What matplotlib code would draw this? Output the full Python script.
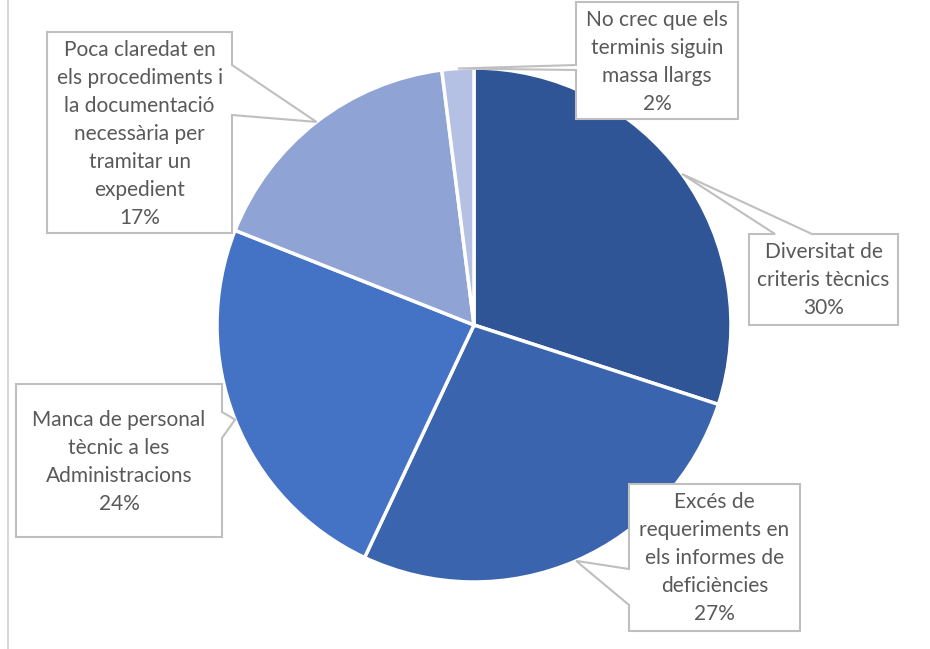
import numpy as np
import matplotlib
matplotlib.use('agg')
import matplotlib.pyplot as plt
from matplotlib.patches import Polygon

# dades del gràfic
etiquetes = ["Diversitat de\ncriteris tècnics",
             "Excés de\nrequeriments en\nels informes de\ndeficiències",
             "Manca de personal\ntècnic a les\nAdministracions",
             "Poca claredat en\nels procediments i\nla documentació\nnecessària per\ntramitar un\nexpedient",
             "No crec que els\nterminis siguin\nmassa llargs"]
valors = [30, 27, 24, 17, 2]
colors = ["#2F5597", "#3A64AD", "#4472C4", "#8FA3D4", "#B4C1E4"]

# caixes de les etiquetes (x0, y0, x1, y1 en píxels) i on surt la punta
caixes = [(749, 234, 898, 325), (629, 484, 800, 631), (16, 384, 222, 537),
          (47, 32, 232, 233), (576, 2, 738, 119)]
puntes = [("top", 775, 812), ("left", 569, 605), ("right", 412, 438),
          ("right", 65, 115), ("left", 65, 70)]

fig = plt.figure(figsize=(9.3, 6.49), dpi=100)
ax = fig.add_axes([0, 0, 1, 1])

centre = (474, 325)
radi = 257
wedges, _ = ax.pie(valors, colors=colors, startangle=-90, counterclock=True,
                   center=centre, radius=radi, frame=True,
                   wedgeprops=dict(edgecolor="white", linewidth=2.5))
ax.set_xlim(0, 930)
ax.set_ylim(649, 0)
ax.set_aspect('equal')
ax.axis('off')

# línia de la vora esquerra
ax.plot([8, 8], [0, 648], color="#D9D9D9", lw=1.5)

for w, lab, v, caixa, (costat, a, b) in zip(wedges, etiquetes, valors, caixes, puntes):
    mig = np.deg2rad((w.theta1 + w.theta2) / 2)
    tip = (centre[0] + radi * np.cos(mig), centre[1] + radi * np.sin(mig))
    x0, y0, x1, y1 = caixa
    if costat == "top":
        pts = [(x0, y0), (a, y0), tip, (b, y0), (x1, y0), (x1, y1), (x0, y1)]
    elif costat == "right":
        pts = [(x0, y0), (x1, y0), (x1, a), tip, (x1, b), (x1, y1), (x0, y1)]
    else:
        pts = [(x0, y0), (x1, y0), (x1, y1), (x0, y1), (x0, b), tip, (x0, a)]
    ax.add_patch(Polygon(pts, closed=True, facecolor="white",
                         edgecolor="#BFBFBF", lw=1.5, zorder=5))
    ax.text((x0 + x1) / 2, (y0 + y1) / 2 + 1, f"{lab}\n{v}%", ha="center",
            va="center", fontsize=15, color="#595959", family="Lato",
            linespacing=1.5, zorder=6)

fig.savefig("out.png", dpi=100)
